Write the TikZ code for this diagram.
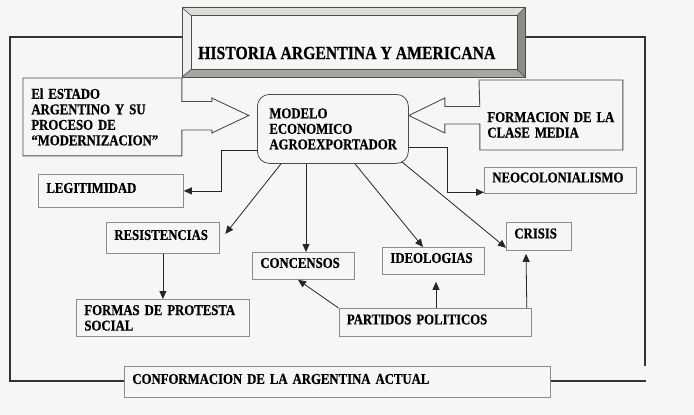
\documentclass[tikz,border=0pt]{standalone}
\usepackage{fontspec}
\setmainfont{Liberation Serif}[FakeStretch=0.85, BoldFeatures={FakeBold=0.6}]
\usepackage{xcolor}
\usetikzlibrary{
    arrows.meta
}
\definecolor{fondo}{RGB}{246,246,244}
\definecolor{bisel1}{RGB}{222,220,217}
\definecolor{bisel2}{RGB}{238,237,235}
\definecolor{bisel3}{RGB}{142,138,134}
\definecolor{bisel4}{RGB}{168,165,161}

\begin{document}
\begin{tikzpicture}[x=1pt, y=-1pt,
    caja/.style={draw=black!45, line width=0.8pt, anchor=north west, inner xsep=8pt, inner ysep=0pt, align=left, font=\bfseries\fontsize{15}{15.5}\selectfont},
    unalinea/.style={text height=10pt, text depth=6pt},
    contorno/.style={draw=black!70, line width=0.9pt},
    marco/.style={draw=black!80, line width=1.1pt},
    flecha/.style={-{Triangle[length=8pt,width=7pt]}, draw=black!85, line width=0.8pt}]
            \fill[fondo] (0,0) rectangle (694,415);
            \useasboundingbox (0,0) rectangle (694,415);

            % marco exterior
            \draw[marco] (182,37) -- (10,37) -- (10,381) -- (124,381);
            \draw[marco] (525,37) -- (645,37) -- (645,366);
            \draw[marco] (550,381) -- (646,381);

            % titulo con bisel
            \fill[bisel1] (182,7.5) -- (525,7.5) -- (517,15.5) -- (191,15.5) -- cycle;
            \fill[bisel2] (182,7.5) -- (191,15.5) -- (191,69.5) -- (182,77) -- cycle;
            \fill[bisel3] (525,7.5) -- (525,77) -- (517,69.5) -- (517,15.5) -- cycle;
            \fill[bisel4] (182,77) -- (525,77) -- (517,69.5) -- (191,69.5) -- cycle;
            \fill[fondo] (191,15.5) rectangle (517,69.5);
            \draw[contorno] (182,7.5) rectangle (525,77);
            \draw[contorno, line width=0.6pt] (191,15.5) rectangle (517,69.5);
            \draw[contorno, line width=0.6pt] (182,7.5) -- (191,15.5) (525,7.5) -- (517,15.5)
                (182,77) -- (191,69.5) (525,77) -- (517,69.5);
            \node[anchor=west, inner sep=0pt, font=\bfseries\fontsize{18.5}{20}\selectfont] (titulo) at (198,53) {HISTORIA ARGENTINA Y AMERICANA};

            % cajas
            \node[caja, draw=none, text width=142pt, minimum height=77pt] (estado) at (23,78) {El ESTADO\\ARGENTINO Y SU\\PROCESO DE\\“MODERNIZACION”};
            \node[caja, draw=black!70, rounded corners=12pt, inner xsep=12pt, text width=127pt, minimum height=69pt] (modelo) at (257,94) {MODELO\\ECONOMICO\\AGROEXPORTADOR};
            \node[caja, draw=none, text width=127pt, minimum height=89pt] (clase) at (479,80) {FORMACION~DE~LA\\CLASE MEDIA};

            \node[caja, unalinea, text width=129pt, minimum height=33pt] (legit) at (38,174) {LEGITIMIDAD};
            \node[caja, unalinea, text width=136pt, minimum height=26pt] (neocol) at (484,167) {NEOCOLONIALISMO};
            \node[caja, unalinea, text width=97pt, minimum height=31pt] (resist) at (106,222) {RESISTENCIAS};
            \node[caja, unalinea, text width=86pt, minimum height=27pt] (concen) at (252,252) {CONCENSOS};
            \node[caja, unalinea, text width=86pt, minimum height=27pt] (ideo) at (382,247) {IDEOLOGIAS};
            \node[caja, unalinea, text width=49pt, minimum height=28pt] (crisis) at (506,222) {CRISIS};
            \node[caja, text width=157pt, minimum height=37pt] (formas) at (76,299) {FORMAS~DE~PROTESTA\\SOCIAL};
            \node[caja, unalinea, text width=176.5pt, minimum height=28pt] (partidos) at (338.5,308) {PARTIDOS POLITICOS};
            \node[caja, unalinea, text width=410pt, minimum height=31pt] (conform) at (124,366) {CONFORMACION DE LA ARGENTINA ACTUAL};

            % flechas de bloque
            \draw[contorno] (estado.north west) -- (estado.north east) -- ++(0,23.5) -- ++(30,0) -- ++(0,-3.5)
                -- ++(37,17.5) -- ++(-37,17.5) -- ++(0,-3) -- ++(-30,0) -- (estado.south east) -- (estado.south west) -- cycle;
            \draw[contorno] (clase.north west) -- (clase.north east) -- ++(0,70) -- ++(-143,0) -- ++(0,-26) -- ++(-35,0)
                -- ++(0,9) -- ++(-36,-17.5) -- ++(36,-17.5) -- ++(0,8.5) -- ++(35,0) -- cycle;

            % conectores
            \draw[flecha] ([yshift=-21.5pt]modelo.west) -- ++(-36,0) |- (legit.east);
            \draw[flecha] ([yshift=-18pt]modelo.east) -- ++(38.5,0) |- ([yshift=1.5pt]neocol.south west);
            \draw[flecha, shorten >=9pt] ([xshift=24pt]modelo.south west) -- ([yshift=-3pt]resist.east);
            \draw[flecha] ([xshift=49pt]modelo.south west) -- ([xshift=54pt]concen.north west);
            \draw[flecha] ([xshift=98pt]modelo.south west) -- ([xshift=41pt]ideo.north west);
            \draw[flecha] ([xshift=-7pt,yshift=2pt]modelo.south east) -- ([yshift=3pt]crisis.south west);

            \draw[flecha] (resist.south) -- (formas.north);
            \draw[flecha] (partidos.north west) -- ([xshift=46pt]concen.south west);
            \draw[flecha, shorten >=7pt] ([xshift=97.5pt]partidos.north west) -- ([xshift=54pt]ideo.south west);
            \draw[flecha, shorten >=3pt] ([xshift=-5pt]partidos.north east) -- ([xshift=20pt]crisis.south west);
\end{tikzpicture}
\end{document}
